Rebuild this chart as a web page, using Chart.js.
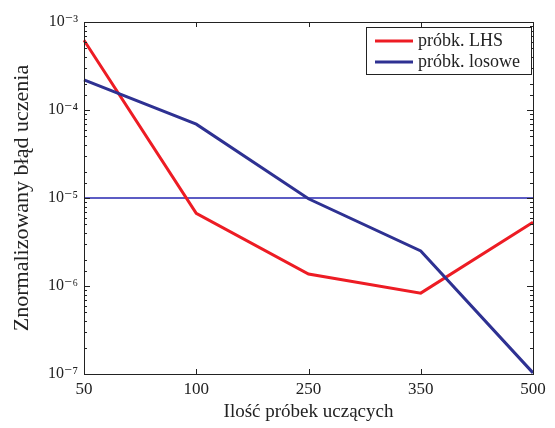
<!DOCTYPE html>
<html>
<head>
<meta charset="utf-8">
<script src="https://cdn.jsdelivr.net/npm/chart.js@4/dist/chart.umd.min.js"></script>
<style>
  html, body { margin: 0; padding: 0; background: #fff; }
  #wrap { width: 555px; height: 428px; }
</style>
</head>
<body>
<div id="wrap"><canvas id="errChart"></canvas></div>
<script>
// dane
const sampleCounts = ["50", "100", "250", "350", "500"];
const lhsErr = [6.2e-4, 6.7e-6, 1.37e-6, 8.3e-7, 5.3e-6];
const randomErr = [2.2e-4, 6.9e-5, 9.8e-6, 2.5e-6, 1.03e-7];
const thresholdErr = [1e-5, 1e-5, 1e-5, 1e-5, 1e-5];
const yMinVal = 1e-7;
const yMaxVal = 1e-3;
const supDigits = { "0": "⁰", "1": "¹", "2": "²", "3": "³", "4": "⁴", "5": "⁵", "6": "⁶", "7": "⁷", "8": "⁸", "9": "⁹", "-": "⁻" };

const serif = "'Liberation Serif', 'DejaVu Serif', serif";

function isDecade(v) {
  const e = Math.log10(v);
  return Math.abs(e - Math.round(e)) < 1e-6;
}

// ramka, znaczniki skierowane do środka i legenda
const framePlugin = {
  id: "frame",
  afterDatasetsDraw(chart) {
    const { ctx, chartArea: a, scales } = chart;
    ctx.save();
    ctx.strokeStyle = "#222";
    ctx.lineWidth = 1;
    ctx.strokeRect(a.left + 0.5, a.top + 0.5, a.right - a.left, a.bottom - a.top);

    ctx.beginPath();
    scales.y.ticks.forEach((t) => {
      const y = Math.round(scales.y.getPixelForValue(t.value)) + 0.5;
      const len = isDecade(t.value) ? 6 : 3;
      ctx.moveTo(a.left, y); ctx.lineTo(a.left + len, y);
      ctx.moveTo(a.right, y); ctx.lineTo(a.right - len, y);
    });
    scales.x.ticks.forEach((t, i) => {
      const x = Math.round(scales.x.getPixelForTick(i)) + 0.5;
      ctx.moveTo(x, a.bottom); ctx.lineTo(x, a.bottom - 5);
      ctx.moveTo(x, a.top); ctx.lineTo(x, a.top + 5);
    });
    ctx.stroke();

    // legenda
    const bx = 366, by = 27, bw = 165, bh = 47;
    ctx.fillStyle = "#fff";
    ctx.fillRect(bx, by, bw, bh);
    ctx.strokeStyle = "#222";
    ctx.strokeRect(bx + 0.5, by + 0.5, bw, bh);
    ctx.font = "18px " + serif;
    ctx.textBaseline = "middle";
    const items = chart.data.datasets.filter((d) => d.inLegend);
    items.forEach((d, i) => {
      const y = by + 14 + i * 21;
      ctx.strokeStyle = d.borderColor;
      ctx.lineWidth = 3;
      ctx.beginPath();
      ctx.moveTo(bx + 9, y); ctx.lineTo(bx + 47, y);
      ctx.stroke();
      ctx.fillStyle = "#222";
      ctx.fillText(d.label, bx + 52, y);
    });
    ctx.restore();
  },
};

new Chart(document.getElementById("errChart"), {
  type: "line",
  data: {
    labels: sampleCounts,
    datasets: [
      {
        label: "próbk. LHS",
        data: lhsErr,
        borderColor: "#ed1c24",
        borderWidth: 3,
        pointRadius: 0,
        tension: 0,
        inLegend: true,
        order: 1,
      },
      {
        label: "próbk. losowe",
        data: randomErr,
        borderColor: "#2e3192",
        borderWidth: 3,
        pointRadius: 0,
        tension: 0,
        inLegend: true,
        order: 0,
      },
      {
        label: "próg",
        data: thresholdErr,
        borderColor: "#2626b0",
        borderWidth: 1.5,
        pointRadius: 0,
        inLegend: false,
        order: 2,
      },
    ],
  },
  options: {
    responsive: true,
    maintainAspectRatio: false,
    animation: false,
    layout: { padding: { top: 22, right: 22, left: 0, bottom: 0 } },
    plugins: {
      legend: { display: false },
      tooltip: { enabled: false },
    },
    scales: {
      x: {
        type: "category",
        offset: false,
        grid: { display: false, drawTicks: false },
        border: { display: false },
        ticks: { color: "#222", font: { family: serif, size: 17 }, padding: 5, maxRotation: 0 },
        title: {
          display: true,
          text: "Ilość próbek uczących",
          color: "#222",
          font: { family: serif, size: 19 },
          padding: { top: 0, bottom: 5 },
        },
        afterFit: (s) => { s.height = 54; },
      },
      y: {
        type: "logarithmic",
        min: yMinVal,
        max: yMaxVal,
        grid: { display: false, drawTicks: false },
        border: { display: false },
        ticks: {
          autoSkip: false,
          color: "#222",
          font: { family: serif, size: 16 },
          padding: 6,
          callback: (v) => {
            if (!isDecade(v)) return "";
            const e = String(Math.round(Math.log10(v)));
            return "10" + e.split("").map((c) => supDigits[c]).join("");
          },
        },
        title: {
          display: true,
          text: "Znormalizowany błąd uczenia",
          color: "#222",
          font: { family: serif, size: 22 },
          padding: { top: 9, bottom: 0 },
        },
        afterFit: (s) => { s.width = 84; },
      },
    },
  },
  plugins: [framePlugin],
});
</script>
</body>
</html>
